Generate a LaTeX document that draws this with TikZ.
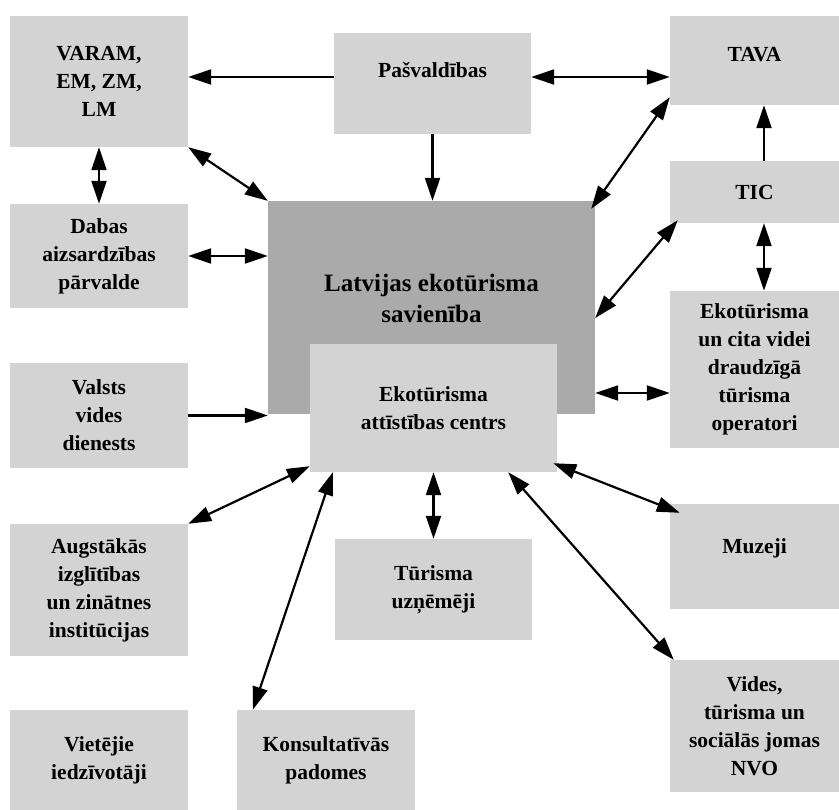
\documentclass[tikz,border=0pt]{standalone}
\usepackage{fontspec}
\setmainfont{Liberation Serif}
\usetikzlibrary{arrows.meta}
\usepackage{xcolor}
\definecolor{boxgray}{HTML}{D3D3D3}
\definecolor{uniongray}{HTML}{A9AAA9}

\tikzset{
    box/.style={fill=boxgray, inner sep=0pt, align=center,
        font=\fontsize{21.5}{28}\selectfont\bfseries},
    arr/.style={line width=2.2pt, -{Triangle[length=23pt,width=15pt]}},
    dbl/.style={line width=2.2pt, {Triangle[length=23pt,width=15pt]}-{Triangle[length=23pt,width=15pt]}},
}

\begin{document}
\begin{tikzpicture}[x=1pt, y=-1pt]
    \useasboundingbox (0,0) rectangle (839,810);
    % left column
    \node[box, minimum width=178pt, minimum height=131pt] (varam) at (99,81.5) {VARAM,\\EM, ZM,\\LM};
    \node[box, minimum width=178pt, minimum height=104pt] (dabas) at (99,256) {Dabas\\aizsardzības\\pārvalde};
    \node[box, minimum width=178pt, minimum height=105pt] (valsts) at (99,415.5) {Valsts\\vides\\dienests};
    \node[box, minimum width=178pt, minimum height=132pt] (augst) at (99,590) {Augstākās\\izglītības\\un zinātnes\\institūcijas};
    \node[box, minimum width=178pt, minimum height=100pt] (viet) at (99,760) {Vietējie\\iedzīvotāji};
    % middle
    \node[box, minimum width=197pt, minimum height=101pt,
        label={[name=pasvtxt, yshift=13.5pt, font=\fontsize{21.5}{28}\selectfont\bfseries]center:Pašvaldības}] (pasv) at (432.5,83.5) {};
    \node[fill=uniongray, minimum width=327pt, minimum height=213pt, inner sep=0pt,
        label={[name=lattxt, yshift=9.5pt, align=center, font=\fontsize{25}{31}\selectfont\bfseries]center:Latvijas ekotūrisma\\savienība}] (lat) at (431.5,307.5) {};
    \node[box, minimum width=247pt, minimum height=128pt] (eac) at (433.5,408) {Ekotūrisma\\attīstības centrs};
    \node[box, minimum width=197pt, minimum height=101pt] (turu) at (433.5,589.5) {Tūrisma\\uzņēmēji};
    \node[box, minimum width=178pt, minimum height=100pt] (kons) at (326,760) {Konsultatīvās\\padomes};
    % right column
    \node[box, minimum width=169pt, minimum height=89pt,
        label={[name=tavatxt, yshift=5.5pt, font=\fontsize{21.5}{28}\selectfont\bfseries]center:TAVA}] (tava) at (754.5,60.5) {};
    \node[box, minimum width=169pt, minimum height=62pt] (tic) at (754.5,192) {TIC};
    \node[box, minimum width=169pt, minimum height=157pt] (oper) at (754.5,369.5) {Ekotūrisma\\un cita videi\\draudzīgā\\tūrisma\\operatori};
    \node[box, minimum width=169pt, minimum height=105pt,
        label={[name=muztxt, yshift=8pt, font=\fontsize{21.5}{28}\selectfont\bfseries]center:Muzeji}] (muz) at (754.5,556.5) {};
    \node[box, minimum width=169pt, minimum height=132pt] (nvo) at (754.5,726) {Vides,\\tūrisma un\\sociālās jomas\\NVO};

    % top row
    \draw[arr] ([yshift=6.5pt]pasv.west) -- ([yshift=4.5pt]varam.east);
    \draw[dbl] ([yshift=6.5pt]pasv.east) -- ([yshift=-16.5pt]tava.west);
    \draw[arr] (pasv.south) -- (pasv.south |- lat.north);

    \draw[dbl] (varam.south east) -- (lat.north west);
    \draw[dbl] (varam.south) -- (dabas.north);
    \draw[dbl] (dabas.east) -- (dabas.east -| lat.west);
    \draw[arr] (valsts.east) -- (valsts.east -| lat.west);

    \draw[dbl] ([yshift=8pt]tava.south west) -- ([shift={(-4pt,-8pt)}]lat.north east);
    \draw[arr] ([xshift=9.5pt]tic.north) -- ([xshift=9.5pt]tava.south);
    \draw[dbl] ([xshift=9.5pt]tic.south) -- ([xshift=9.5pt]oper.north);
    \draw[dbl] ([shift={(8pt,3pt)}]tic.south west) -- ([yshift=-10.5pt]lat.east);
    \draw[dbl] ([yshift=-85.5pt]lat.east) -- ([yshift=-23.5pt]oper.west);

    % bottom fan
    \draw[dbl] ([yshift=6pt]eac.south west) -- (augst.north east);
    \draw[dbl] ([xshift=23pt]eac.south west) -- ([xshift=16pt]kons.north west);
    \draw[dbl] (eac.south) -- (turu.north);
    \draw[dbl] ([shift={(-4pt,9pt)}]eac.south east) -- ([shift={(10pt,-9pt)}]muz.north west);
    \draw[dbl] ([xshift=-49pt]eac.south east) -- ([xshift=4pt]nvo.north west);
\end{tikzpicture}
\end{document}
